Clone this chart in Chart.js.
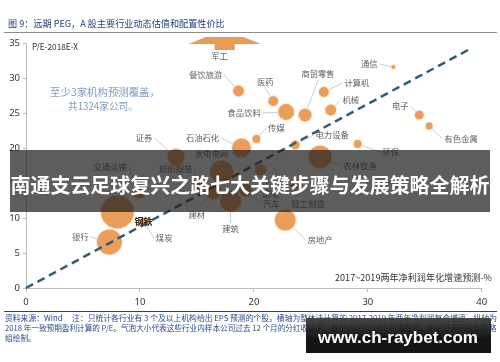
<!DOCTYPE html>
<html><head><meta charset="utf-8">
<script src="https://cdn.jsdelivr.net/npm/chart.js@4"></script>
<style>
html,body{margin:0;padding:0;background:#fff;}
#wrap{position:relative;width:500px;height:362px;overflow:hidden;font-family:"Noto Sans CJK SC","Noto Sans",sans-serif;}
canvas{position:absolute;left:0;top:0;}
.t{position:absolute;white-space:nowrap;line-height:1;transform:translateY(-50%);}
.c{transform:translate(-50%,-50%);}
</style></head><body>
<div id="wrap">
<canvas id="c" width="500" height="362"></canvas>
<div class="t" style="left:8px;top:24px;font-size:9.3px;color:#23407a;" data-w="217">图 9：远期 PEG，A 股主要行业动态估值和配置性价比</div>
<div style="position:absolute;left:4px;top:32px;width:493px;height:0;border-top:1.5px solid #8c8c8c;"></div>
<div class="t" style="left:32px;top:46px;font-size:8.5px;color:#333;" data-w="46">P/E-2018E-X</div>
<div class="t c" style="left:105px;top:92px;font-size:11px;color:#7e9bbd;" data-w="110">至少3家机构预测覆盖，</div>
<div class="t c" style="left:103px;top:107px;font-size:11px;color:#7e9bbd;" data-w="70">共1324家公司。</div>
<div class="t" style="right:8px;top:278px;font-size:9.1px;color:#333;" data-w="157">2017~2019两年净利润年化增速预测-%</div>
<div style="position:absolute;left:4px;top:311px;width:493px;height:0;border-top:1.3px solid #2b4270;"></div>
<div class="t" style="left:5px;top:318px;font-size:7.7px;color:#2b4a85;" data-w="492">资料来源：Wind　 注：只统计各行业有 3 个及以上机构给出 EPS 预测的个股，横轴为整体法计算的 2017-2019 年两年净利润复合增速，纵轴为</div>
<div class="t" style="left:5px;top:328px;font-size:7.7px;color:#2b4a85;" data-w="492">2018 年一致预期盈利计算的 P/E。气泡大小代表这些行业内样本公司过去 12 个月的分红收益率。截至 2017/11/06 可得数据，中信证券研究部策略</div>
<div class="t" style="left:5px;top:338px;font-size:7.7px;color:#2b4a85;">组绘制。</div>
<div style="position:absolute;left:10px;top:150px;width:480px;height:62px;background:rgba(30,30,30,0.72);"></div>
<div class="t c" style="left:250px;top:185px;font-size:20.8px;font-weight:bold;color:#fff;" data-w="479">南通支云足球复兴之路七大关键步骤与发展策略全解析</div>
<div style="position:absolute;left:306px;top:318px;width:185px;height:35px;background:linear-gradient(#3a3a3a,#000 60%);opacity:0.92;"></div>
<div class="t c" style="left:398px;top:337px;font-size:17px;font-weight:bold;color:#fff;font-family:'Liberation Sans',Arial,sans-serif;" data-w="160">www.ch-raybet.com</div>
</div>
<script>
// ---- data ----
const industries = ['餐饮旅游','医药','食品饮料','商贸零售','计算机','机械','通信','电子','有色金属','环保','电力设备','传媒','石油石化','证券','农林牧渔','发电电网','交通运输','纺织服装','家电','轻工制造','汽车','建材','建筑','钢铁','煤炭','银行','房地产'];
const growth = [18.65,21.70,22.83,24.49,26.14,26.75,32.24,34.51,35.38,29.11,23.62,20.22,18.91,13.16,25.80,17.17,9.93,15.16,20.57,23.62,19.26,16.47,17.95,8.02,10.37,7.32,22.75];
const pe = [28.14,26.71,25.14,24.71,28.0,25.43,31.57,24.71,23.14,20.57,20.43,21.29,20.0,18.71,18.71,16.57,13.71,14.71,16.86,14.71,14.0,13.71,12.43,10.86,9.43,6.57,9.71];
const dividendSize = [6,5.5,8.5,7,5.5,6,2.5,5,4,4.5,5,4.5,10,9,12,12,7,6,6,5,7,8,11,17,5,13,11];
const offChartName = '军工';
const offChartX = [17.43];
const offChartY = [34.93];
const pegX = [0, 38.9];
const pegY = [0, 34.1];
const xTicks = [0,10,20,30,40];
const yTicks = [0,5,10,15,20,25,30,35];
// ---- label layout (pixel offsets from bubble centre) ----
const labelOffsets = [[-33,-16],[-8,-19],[-42,1],[13,-41],[33,-9],[20,-10],[-24,-3],[-19,-9],[32,13],[33,8],[37,-10],[20,-11],[-39,-10],[-32,-19],[40,9],[-10,-18],[-29,-25],[-23,-16],[10,24],[13,19],[26,14],[-17,23],[0,28],[26,10],[20,16],[-29,-5],[35,20]];
const offChartLabelOffset = [-5,12];

// fit texts
document.querySelectorAll('[data-w]').forEach(el=>{
  const target=+el.dataset.w; const w=el.getBoundingClientRect().width;
  const fs=parseFloat(getComputedStyle(el).fontSize);
  el.style.fontSize=(fs*target/w)+'px';
});

// arrow point style
const arrow=document.createElement('canvas');
arrow.width=74; arrow.height=15;
(function(){const g=arrow.getContext('2d');g.fillStyle='#EB9A55';g.beginPath();
 [[18,1],[56,1],[73,8],[47,8],[47,14],[27,14],[27,8],[1,8]].forEach((p,i)=>i?g.lineTo(p[0],p[1]):g.moveTo(p[0],p[1]));
 g.closePath();g.fill();})();

const labelPlugin={
 id:'lbl',
 afterDatasetsDraw(chart){
  const ctx=chart.ctx;
  const meta=chart.getDatasetMeta(1);
  ctx.save();
  ctx.font='8.3px "Noto Sans CJK SC"';
  ctx.textAlign='center'; ctx.textBaseline='middle';
  meta.data.forEach((pt,i)=>{
    const bx=pt.x, by=pt.y, r=dividendSize[i];
    const lx=bx+labelOffsets[i][0], ly=by+labelOffsets[i][1];
    const name=industries[i];
    if(name==='钢铁'){
      ctx.font='bold 9px "Noto Sans CJK SC"'; ctx.fillStyle='#3b2410';
      ctx.fillText(name,lx,ly); ctx.font='8.3px "Noto Sans CJK SC"'; return;
    }
    const tw=ctx.measureText(name).width;
    const dx=lx-bx, dy=ly-by;
    let ex,ey;
    if(Math.abs(dx)>=Math.abs(dy)){ex=lx-Math.sign(dx)*(tw/2+2);ey=ly;}
    else{ex=lx;ey=ly-Math.sign(dy)*6;}
    const L=Math.hypot(ex-bx,ey-by);
    if(L>r+2){
      const sx=bx+(ex-bx)/L*r, sy=by+(ey-by)/L*r;
      ctx.strokeStyle='#b3cbdb'; ctx.lineWidth=0.9;
      ctx.beginPath(); ctx.moveTo(sx,sy); ctx.lineTo(ex,ey); ctx.stroke();
    }
    ctx.fillStyle='#606060';
    ctx.fillText(name,lx,ly);
  });
  const am=chart.getDatasetMeta(2).data[0];
  ctx.fillStyle='#606060';
  ctx.fillText(offChartName, am.x+offChartLabelOffset[0], am.y+offChartLabelOffset[1]);
  ctx.restore();
 }
};

new Chart(document.getElementById('c').getContext('2d'),{
 type:'bubble',
 data:{datasets:[
  {type:'line',data:pegX.map((x,i)=>({x:x,y:pegY[i]})),borderColor:'#335e72',borderWidth:2.5,borderDash:[8,5],pointRadius:0,fill:false,order:0,clip:false},
  {data:industries.map((n,i)=>({x:growth[i],y:pe[i],r:dividendSize[i]})),backgroundColor:'rgba(233,148,74,0.9)',borderColor:'rgba(255,240,225,0.85)',borderWidth:1.2,order:1,clip:false},
  {data:offChartX.map((x,i)=>({x:x,y:offChartY[i],r:10})),pointStyle:arrow,order:1,clip:false}
 ]},
 options:{responsive:false,animation:false,devicePixelRatio:1,
  layout:{padding:{left:0,right:15,top:43,bottom:0}},
  plugins:{legend:{display:false},tooltip:{enabled:false}},
  scales:{
   x:{type:'linear',min:0,max:40,afterFit(s){s.height=74;},afterBuildTicks(s){s.ticks=xTicks.map(v=>({value:v}));},
      grid:{drawOnChartArea:false,tickLength:4,color:'#bbb'},border:{color:'#bbb'},
      ticks:{padding:5,color:'#333',font:{size:9.5,family:'"Noto Sans"'}}},
   y:{type:'linear',min:0,max:35,afterFit(s){s.width=26;},afterBuildTicks(s){s.ticks=yTicks.map(v=>({value:v}));},
      grid:{drawOnChartArea:false,tickLength:3,color:'#bbb'},border:{color:'#bbb'},
      ticks:{padding:3,color:'#333',font:{size:9.5,family:'"Noto Sans"'}}}
  }
 },
 plugins:[labelPlugin]
});
</script>
</body></html>
